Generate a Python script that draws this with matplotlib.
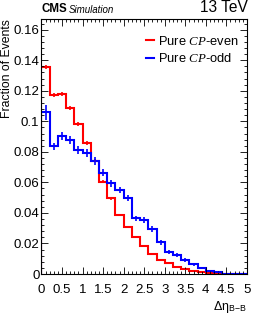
import numpy as np
import matplotlib
matplotlib.use("Agg")
import matplotlib.pyplot as plt
from matplotlib.ticker import MultipleLocator, FuncFormatter

plt.rcParams['font.family'] = ['Liberation Sans', 'DejaVu Sans']
plt.rcParams['mathtext.fontset'] = 'custom'
plt.rcParams['mathtext.it'] = 'Liberation Serif:italic'
plt.rcParams['mathtext.rm'] = 'Liberation Sans'

# ---- data ----
bin_edges = np.round(np.arange(0, 5.0001, 0.2), 2)

cp_even = [0.1355, 0.117, 0.118, 0.1086, 0.098, 0.086, 0.0743, 0.0605, 0.0496, 0.0385,
           0.031, 0.024, 0.0184, 0.0131, 0.0092, 0.007, 0.0048, 0.003, 0.0022, 0.0015,
           0.0008, 0.0005, 0.0, 0.0, 0.0]
cp_even_err = [0.0015, 0.0014, 0.0014, 0.0013, 0.0013, 0.0012, 0.0011, 0.001, 0.0009, 0.0008,
               0.0007, 0.0006, 0.0006, 0.0005, 0.0004, 0.0004, 0.0003, 0.0003, 0.0002, 0.0002,
               0.0001, 0.0001, 0.0, 0.0, 0.0]

cp_odd = [0.1058, 0.0835, 0.0905, 0.0879, 0.0813, 0.0791, 0.0741, 0.0664, 0.0595, 0.055,
          0.050, 0.0365, 0.0354, 0.0295, 0.0208, 0.0146, 0.0125, 0.0092, 0.0064, 0.0041,
          0.0022, 0.0011, 0.0, 0.0, 0.0]
cp_odd_err = [0.005, 0.0025, 0.0026, 0.0026, 0.0025, 0.0025, 0.0024, 0.0023, 0.0022, 0.0021,
              0.002, 0.0018, 0.0018, 0.0017, 0.0015, 0.0013, 0.0012, 0.001, 0.0009, 0.0007,
              0.0005, 0.0004, 0.0, 0.0, 0.0]

series_labels = ['Pure $\\mathit{CP}$-even', 'Pure $\\mathit{CP}$-odd']
series_colors = ['#ff0000', '#0000ff']

# ---- plot ----
fig = plt.figure(figsize=(2.61, 3.27), dpi=100)
ax = fig.add_axes([0.159, 0.162, 0.787, 0.78])

centers = 0.5 * (bin_edges[:-1] + bin_edges[1:])
for vals, errs, lab, col in [(cp_even, cp_even_err, series_labels[0], series_colors[0]),
                             (cp_odd, cp_odd_err, series_labels[1], series_colors[1])]:
    ax.stairs(vals, bin_edges, color=col, lw=1.5, label=lab, baseline=0)
    ax.errorbar(centers, vals, yerr=errs, fmt='none', ecolor=col, elinewidth=1.2, capsize=0)

ax.set_xlim(0, 5)
ax.set_ylim(0, 0.167)

ax.xaxis.set_major_locator(MultipleLocator(0.5))
ax.xaxis.set_minor_locator(MultipleLocator(0.1))
ax.yaxis.set_major_locator(MultipleLocator(0.02))
ax.yaxis.set_minor_locator(MultipleLocator(0.004))

def fmt(v, pos):
    s = ('%.2f' % v).rstrip('0').rstrip('.')
    return s
ax.xaxis.set_major_formatter(FuncFormatter(fmt))
ax.yaxis.set_major_formatter(FuncFormatter(fmt))

ax.tick_params(which='both', direction='in', top=True, right=True, labelsize=9.5)
ax.tick_params(axis='x', which='major', pad=7)
ax.tick_params(axis='y', which='major', pad=1.5)
ax.tick_params(which='major', length=5, width=0.6)
ax.tick_params(which='minor', length=2.5, width=0.6)
for sp in ax.spines.values():
    sp.set_linewidth(0.8)

ax.set_ylabel('Fraction of Events', fontsize=8.8, loc='top')
ax.yaxis.set_label_coords(-0.141, 1.0)
ax.set_xlabel('Δη$_{\\mathrm{B}\\mathrm{-}\\mathrm{B}}$', fontsize=9, loc='right', labelpad=2)

fig.text(0.159, 0.955, 'CMS', fontsize=8.3, fontweight='bold', ha='left', va='bottom')
fig.text(0.262, 0.955, 'Simulation', fontsize=7, style='italic', ha='left', va='bottom')
fig.text(0.95, 0.955, '13 TeV', fontsize=11.2, ha='right', va='bottom')

leg = ax.legend(loc='upper left', bbox_to_anchor=(0.51, 0.938), frameon=False, fontsize=9.3,
                handlelength=0.6, handletextpad=0.3, labelspacing=0.35, borderpad=0,
                borderaxespad=0)

fig.savefig('out.png', dpi=100)
